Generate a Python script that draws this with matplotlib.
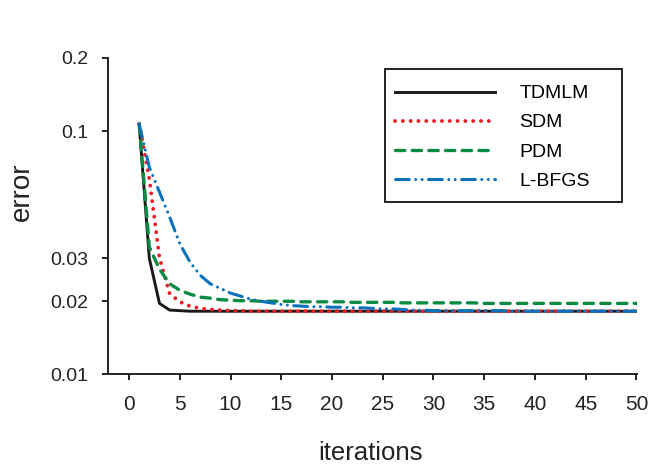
import numpy as np
import matplotlib
matplotlib.use("Agg")
import matplotlib.pyplot as plt
from matplotlib.patches import Rectangle

plt.rcParams['font.family'] = ['Liberation Sans', 'DejaVu Sans']

# iterations 1..50
iters = np.arange(1, 51)

# values (log scale)
tdmlm = [0.107, 0.0300, 0.0196, 0.0184, 0.0183, 0.0182, 0.0182, 0.0182, 0.0182, 0.0182,
         0.0182, 0.0182, 0.0182, 0.0182, 0.0182, 0.0182, 0.0182, 0.0182, 0.0182, 0.0182,
         0.0182, 0.0182, 0.0182, 0.0182, 0.0182, 0.0182, 0.0182, 0.0182, 0.0182, 0.0182,
         0.0182, 0.0182, 0.0182, 0.0182, 0.0182, 0.0182, 0.0182, 0.0182, 0.0182, 0.0182,
         0.0182, 0.0182, 0.0182, 0.0182, 0.0182, 0.0182, 0.0182, 0.0182, 0.0182, 0.0182]
sdm = [0.107, 0.0638, 0.0302, 0.0215, 0.0199, 0.0191, 0.0187, 0.0185, 0.0184, 0.0183,
       0.0183, 0.0182, 0.0182, 0.0182, 0.0182, 0.0182, 0.0182, 0.0182, 0.0182, 0.0182,
       0.0182, 0.0182, 0.0182, 0.0182, 0.0182, 0.0182, 0.0182, 0.0182, 0.0182, 0.0182,
       0.0182, 0.0182, 0.0182, 0.0182, 0.0182, 0.0182, 0.0182, 0.0182, 0.0182, 0.0182,
       0.0182, 0.0182, 0.0182, 0.0182, 0.0182, 0.0182, 0.0182, 0.0182, 0.0182, 0.0182]
pdm = [0.107, 0.0334, 0.0271, 0.0236, 0.0222, 0.0214, 0.0208, 0.0206, 0.0203, 0.0202,
       0.0201, 0.0201, 0.0200, 0.0200, 0.0200, 0.0200, 0.0199, 0.0199, 0.0199, 0.0199,
       0.0199, 0.0198, 0.0198, 0.0198, 0.0198, 0.0198, 0.0197, 0.0197, 0.0197, 0.0197,
       0.0197, 0.0197, 0.0197, 0.0197, 0.0196, 0.0196, 0.0196, 0.0196, 0.0196, 0.0196,
       0.0196, 0.0196, 0.0196, 0.0196, 0.0196, 0.0196, 0.0196, 0.0196, 0.0196, 0.0196]
lbfgs = [0.107, 0.0711, 0.0562, 0.0444, 0.0345, 0.0290, 0.0256, 0.0236, 0.0226, 0.0216,
         0.0210, 0.0204, 0.0200, 0.0197, 0.0194, 0.0192, 0.0191, 0.0190, 0.0190, 0.0189,
         0.0189, 0.0188, 0.0188, 0.0187, 0.0186, 0.0186, 0.0185, 0.0184, 0.0184, 0.0183,
         0.0183, 0.0183, 0.0183, 0.0183, 0.0183, 0.0183, 0.0183, 0.0182, 0.0182, 0.0182,
         0.0182, 0.0182, 0.0182, 0.0182, 0.0182, 0.0182, 0.0182, 0.0182, 0.0182, 0.0182]

yticks = [0.01, 0.02, 0.03, 0.1, 0.2]
ytick_labels = ['0.01', '0.02', '0.03', '0.1', '0.2']
xticks = list(range(0, 51, 5))

fig = plt.figure(figsize=(6.64, 4.70), dpi=100)
ax = fig.add_axes([0.1627, 0.2032, 0.7966, 0.6734])

ax.plot(iters, tdmlm, color='#1a1a1a', lw=2.1, label='TDMLM')
ax.plot(iters, sdm, color='#ee1c25', lw=2.8, linestyle=(0, (0.01, 2.0)),
        dash_capstyle='round', label='SDM')
ax.plot(iters, pdm, color='#0b8a43', lw=2.4, linestyle=(0, (2.8, 2.2)),
        dash_capstyle='round', label='PDM')
ax.plot(iters, lbfgs, color='#0a72bd', lw=2.2,
        linestyle=(0, (4.5, 2.1, 0.01, 2.1, 0.01, 2.1)),
        dash_capstyle='round', label='L-BFGS')

ax.set_yscale('log')
ax.set_ylim(0.01, 0.2)
ax.set_xlim(-2.07, 50.05)
ax.set_yticks(yticks)
ax.set_yticklabels(ytick_labels)
ax.yaxis.set_minor_locator(matplotlib.ticker.NullLocator())
ax.set_xticks(xticks)

for s in ['top', 'right']:
    ax.spines[s].set_visible(False)
for s in ['left', 'bottom']:
    ax.spines[s].set_linewidth(1.4)
    ax.spines[s].set_color('#222222')

ax.tick_params(axis='x', direction='out', length=4.5, width=1.4, pad=10,
               labelsize=15, colors='#222222')
ax.tick_params(axis='y', direction='out', length=4.5, width=1.4, pad=9.5,
               labelsize=14, colors='#222222')

fig.text(22 / 664, 1 - 192 / 470, 'error', rotation=90, ha='center', va='center',
         fontsize=20, color='#222222')
fig.text(371 / 664, 1 - 460 / 470, 'iterations', ha='center', va='baseline',
         fontsize=18.5, color='#222222')

# legend frame drawn separately so the padding matches the reference
ax.add_patch(Rectangle((0.5236, 0.545), 0.4475, 0.4202, transform=ax.transAxes,
                       fill=True, facecolor='white', edgecolor='#222222', lw=1.4,
                       zorder=4, clip_on=False))
leg = ax.legend(loc='upper left', bbox_to_anchor=(0.5425, 0.9153),
                borderaxespad=0, borderpad=0, fontsize=14, handlelength=5.15,
                handletextpad=1.25, labelspacing=0.59, frameon=False)
leg.set_zorder(5)

fig.savefig('out.png', dpi=100)
